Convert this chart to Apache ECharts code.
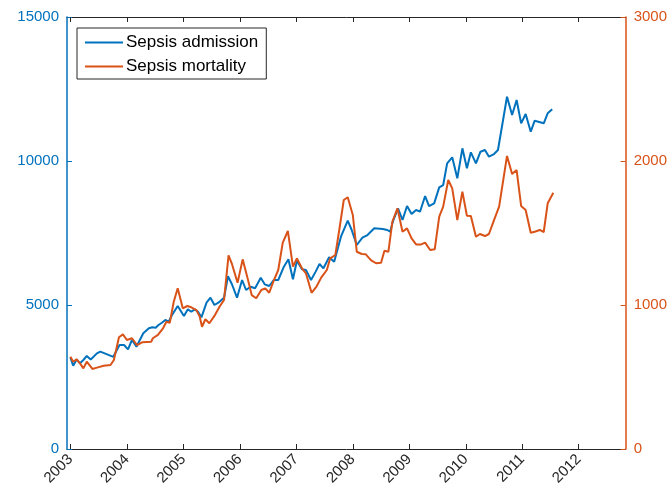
<!DOCTYPE html>
<html>
<head>
<meta charset="utf-8">
<script src="https://cdn.jsdelivr.net/npm/echarts@6/dist/echarts.min.js"></script>
<style>
  html, body { margin: 0; padding: 0; background: #fff; }
  #chart { width: 670px; height: 494px; }
</style>
</head>
<body>
<div id="chart"></div>
<script>
// Monthly sepsis counts (time as decimal year)
const admissionTime = [
  2003.00, 2003.05, 2003.11, 2003.17, 2003.23, 2003.29, 2003.36, 2003.47, 2003.53, 2003.76,
  2003.87, 2003.95, 2004.02, 2004.09, 2004.17, 2004.29, 2004.32, 2004.39, 2004.45, 2004.51,
  2004.56, 2004.62, 2004.68, 2004.74, 2004.80, 2004.90, 2005.01, 2005.08, 2005.14, 2005.20,
  2005.26, 2005.32, 2005.41, 2005.48, 2005.55, 2005.62, 2005.72, 2005.79, 2005.86, 2005.95,
  2006.04, 2006.11, 2006.19, 2006.27, 2006.37, 2006.44, 2006.52, 2006.60, 2006.68, 2006.78,
  2006.86, 2006.94, 2007.01, 2007.10, 2007.17, 2007.26, 2007.34, 2007.41, 2007.48, 2007.58,
  2007.67, 2007.79, 2007.91, 2007.98, 2008.07, 2008.17, 2008.26, 2008.38, 2008.53, 2008.61,
  2008.66, 2008.71, 2008.80, 2008.88, 2008.96, 2009.04, 2009.12, 2009.19, 2009.28, 2009.35,
  2009.44, 2009.53, 2009.60, 2009.67, 2009.76, 2009.85, 2009.94, 2010.02, 2010.09, 2010.18,
  2010.26, 2010.34, 2010.41, 2010.50, 2010.57, 2010.73, 2010.82, 2010.90, 2010.98, 2011.06,
  2011.15, 2011.22, 2011.38, 2011.45, 2011.53
];
const admissionValues = [
  3180, 2890, 3110, 2975, 3090, 3230, 3110, 3320, 3380, 3200,
  3610, 3610, 3460, 3785, 3550, 4017, 4073, 4190, 4225, 4212,
  4305, 4385, 4480, 4420, 4652, 4965, 4618, 4850, 4767, 4850,
  4767, 4572, 5080, 5253, 5000, 5080, 5253, 6000, 5720, 5253,
  5868, 5521, 5635, 5580, 5948, 5718, 5660, 5868, 5868, 6330,
  6587, 5892, 6538, 6239, 6215, 5868, 6150, 6423, 6274, 6656,
  6503, 7371, 7927, 7604, 7083, 7337, 7430, 7663, 7638, 7604,
  7545, 7900, 8357, 7951, 8437, 8159, 8298, 8240, 8784, 8437,
  8530, 9086, 9166, 9919, 10128, 9399, 10440, 9746, 10300, 9919,
  10323, 10381, 10150, 10242, 10381, 12232, 11597, 12117, 11308, 11632,
  11017, 11400, 11308, 11655, 11794
];

const mortalityTime = [
  2003.00, 2003.05, 2003.11, 2003.17, 2003.23, 2003.29, 2003.39, 2003.47, 2003.59, 2003.71,
  2003.77, 2003.86, 2003.93, 2004.00, 2004.09, 2004.18, 2004.27, 2004.43, 2004.46, 2004.55,
  2004.64, 2004.70, 2004.76, 2004.83, 2004.90, 2004.99, 2005.07, 2005.14, 2005.23, 2005.29,
  2005.33, 2005.39, 2005.46, 2005.55, 2005.64, 2005.72, 2005.80, 2005.86, 2005.96, 2006.05,
  2006.13, 2006.21, 2006.29, 2006.38, 2006.45, 2006.52, 2006.60, 2006.68, 2006.76, 2006.85,
  2006.94, 2007.01, 2007.10, 2007.17, 2007.27, 2007.36, 2007.44, 2007.54, 2007.60, 2007.69,
  2007.76, 2007.84, 2007.91, 2008.00, 2008.07, 2008.16, 2008.23, 2008.32, 2008.41, 2008.50,
  2008.56, 2008.63, 2008.70, 2008.79, 2008.88, 2008.96, 2009.04, 2009.12, 2009.21, 2009.28,
  2009.37, 2009.45, 2009.53, 2009.60, 2009.69, 2009.76, 2009.85, 2009.94, 2010.02, 2010.09,
  2010.18, 2010.25, 2010.34, 2010.41, 2010.50, 2010.59, 2010.73, 2010.82, 2010.90, 2010.98,
  2011.06, 2011.15, 2011.22, 2011.31, 2011.38, 2011.45, 2011.55
];
const mortalityValues = [
  641, 606, 623, 595, 560, 606, 556, 565, 578, 583,
  618, 776, 796, 757, 769, 722, 741, 745, 769, 792,
  838, 884, 877, 1023, 1116, 977, 993, 984, 965, 919,
  849, 901, 873, 924, 988, 1035, 1345, 1285, 1155, 1317,
  1197, 1069, 1047, 1104, 1116, 1085, 1169, 1243, 1433, 1514,
  1266, 1324, 1255, 1220, 1085, 1130, 1190, 1243, 1324, 1347,
  1521, 1729, 1748, 1625, 1370, 1354, 1352, 1312, 1290, 1294,
  1377, 1370, 1578, 1671, 1509, 1532, 1463, 1421, 1421, 1433,
  1382, 1387, 1613, 1683, 1868, 1810, 1590, 1787, 1620, 1618,
  1474, 1493, 1479, 1493, 1590, 1683, 2035, 1910, 1937, 1688,
  1660, 1502, 1509, 1521, 1507, 1706, 1780
];

const yearTicks = [2003, 2004, 2005, 2006, 2007, 2008, 2009, 2010, 2011, 2012];
const seriesNames = ['Sepsis admission', 'Sepsis mortality'];

const BLUE = '#0072BD';
const ORANGE = '#D95319';
const DARK = '#262626';
const FONT = '"Liberation Sans", Arial, sans-serif';

const pair = (xs, ys) => xs.map((x, i) => [x, ys[i]]);
const plain = v => String(Math.round(v));

const chart = echarts.init(document.getElementById('chart'), null, { renderer: 'canvas' });

chart.setOption({
  animation: false,
  backgroundColor: '#fff',
  grid: { left: 67, right: 43, top: 17, bottom: 45, containLabel: false },
  legend: {
    data: seriesNames,
    icon: 'rect',
    orient: 'vertical',
    left: 77,
    top: 28,
    itemWidth: 38,
    itemHeight: 2,
    itemGap: 7,
    padding: [6, 8, 4, 8],
    borderColor: DARK,
    borderWidth: 1,
    backgroundColor: '#fff',
    textStyle: { fontFamily: FONT, fontSize: 17, color: '#000', padding: [0, 0, 0, -2] }
  },
  xAxis: [
    {
      type: 'value',
      position: 'bottom',
      min: 2002.94,
      max: 2012.83,
      axisLine: { show: true, onZero: false, lineStyle: { color: DARK, width: 1 } },
      axisTick: { show: true, inside: true, length: 5, customValues: yearTicks, lineStyle: { color: DARK } },
      axisLabel: {
        show: true, customValues: yearTicks, rotate: 45, margin: 8,
        color: DARK, fontFamily: FONT, fontSize: 15, formatter: plain
      },
      splitLine: { show: false }
    },
    {
      type: 'value',
      position: 'top',
      min: 2002.94,
      max: 2012.83,
      axisLine: { show: true, onZero: false, lineStyle: { color: DARK, width: 1 } },
      axisTick: { show: true, inside: true, length: 5, customValues: yearTicks, lineStyle: { color: DARK } },
      axisLabel: { show: false },
      splitLine: { show: false }
    }
  ],
  yAxis: [
    {
      type: 'value',
      position: 'left',
      min: 0, max: 15000, interval: 5000,
      axisLine: { show: true, onZero: false, lineStyle: { color: BLUE, width: 1.5 } },
      axisTick: { show: true, inside: true, length: 5, lineStyle: { color: BLUE } },
      axisLabel: { color: BLUE, fontFamily: FONT, fontSize: 15, margin: 8, formatter: plain },
      splitLine: { show: false }
    },
    {
      type: 'value',
      position: 'right',
      min: 0, max: 3000, interval: 1000,
      axisLine: { show: true, onZero: false, lineStyle: { color: ORANGE, width: 1.5 } },
      axisTick: { show: true, inside: true, length: 5, lineStyle: { color: ORANGE } },
      axisLabel: { color: ORANGE, fontFamily: FONT, fontSize: 15, margin: 8, formatter: plain },
      splitLine: { show: false }
    }
  ],
  series: [
    {
      name: seriesNames[0],
      type: 'line',
      xAxisIndex: 0,
      yAxisIndex: 0,
      symbol: 'none',
      color: BLUE,
      lineStyle: { color: BLUE, width: 2 },
      data: pair(admissionTime, admissionValues)
    },
    {
      name: seriesNames[1],
      type: 'line',
      xAxisIndex: 0,
      yAxisIndex: 1,
      symbol: 'none',
      color: ORANGE,
      lineStyle: { color: ORANGE, width: 2 },
      data: pair(mortalityTime, mortalityValues)
    }
  ]
});
</script>
</body>
</html>
